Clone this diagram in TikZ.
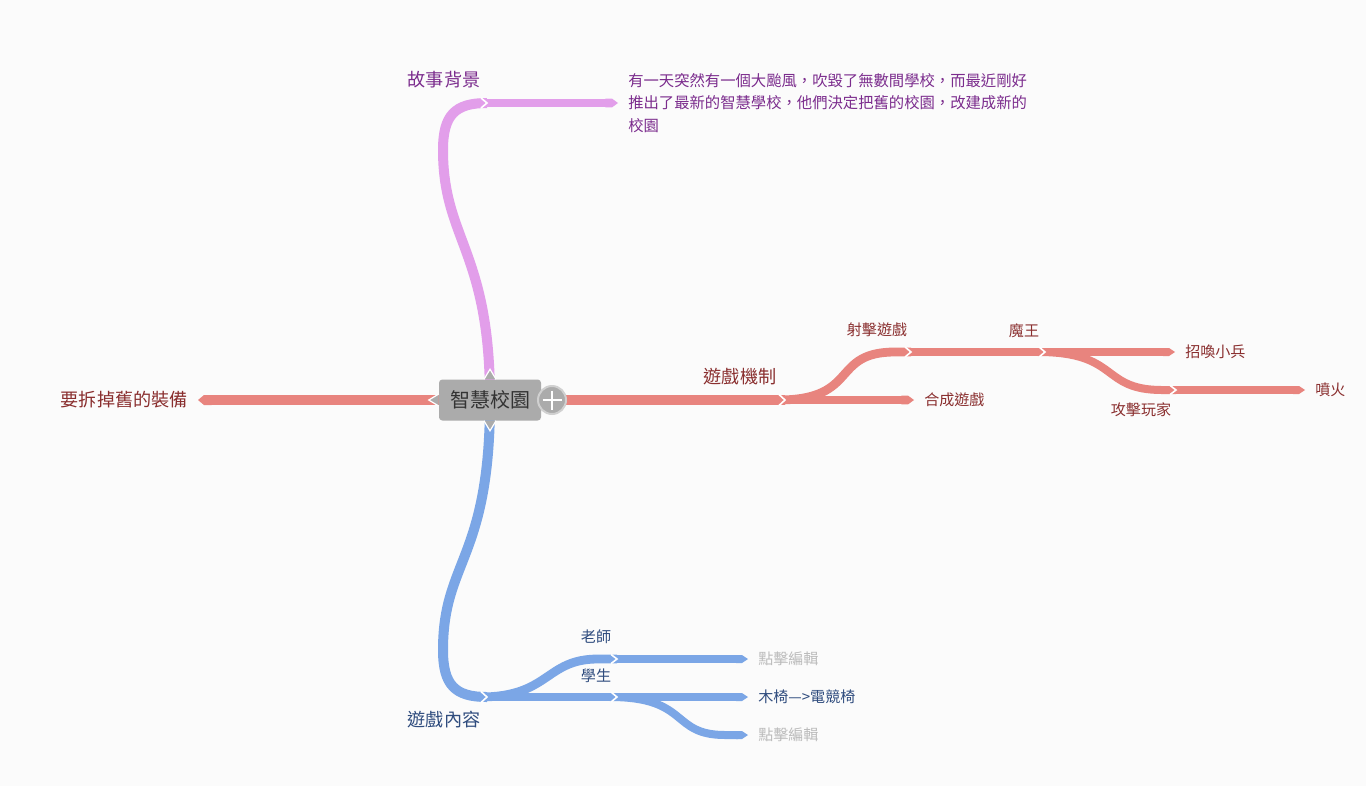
\documentclass[tikz,border=0pt]{standalone}
\usepackage{fontspec}
\setmainfont{Noto Sans CJK TC}
\usepackage{tikz}
\usetikzlibrary{arrows.meta, calc, backgrounds, positioning}

\definecolor{bg}{HTML}{FBFBFB}
\definecolor{pinkband}{HTML}{E29EEA}
\definecolor{redband}{HTML}{E8847E}
\definecolor{blueband}{HTML}{7BA6E6}
\definecolor{pinktext}{HTML}{7B2C8D}
\definecolor{redtext}{HTML}{8A2F2F}
\definecolor{bluetext}{HTML}{2F4C7E}
\definecolor{hint}{HTML}{BBBBBB}
\definecolor{hubgray}{HTML}{ABABAB}
\definecolor{ringgray}{HTML}{D0D0D0}

% white chevron where one piece of a branch hands over to the next
\newcommand\joint[2]{\draw[white, line width=1.2pt] ($(#1)+(-6,-#2)$) -- (#1) -- ($(#1)+(-6,#2)$);}

\begin{document}
\begin{tikzpicture}[x=.75pt,y=-.75pt,
    band/.style={line width=7.5pt},
    twig/.style={line width=6.6pt},
    leaf/.style={line width=6pt},
    tip/.style={-{Triangle Cap[length=4.5pt]}, shorten >=7.5pt},
    big/.style={font=\fontsize{13.6}{16}\selectfont, inner sep=0pt},
    small/.style={font=\fontsize{11.3}{14}\selectfont, inner sep=0pt}]

  \node [fill=hubgray, rounded corners=2.5pt, minimum width=76.5pt, minimum height=30.75pt,
         font=\fontsize{15}{18}\selectfont, text=black!80] at (490,400) (hub) {智慧校園};

  % labels
  \node [big, text=pinktext] at (444,80) (story) {故事背景};
  \node [inner sep=0pt, text=pinktext, align=left, anchor=west,
         font=\fontsize{11.5}{16.9}\selectfont] at (628,103) (storytext)
        {有一天突然有一個大颱風，吹毀了無數間學校，而最近剛好\\推出了最新的智慧學校，他們決定把舊的校園，改建成新的\\校園};
  \node [big, text=redtext, anchor=east] at (188,400) (drop) {要拆掉舊的裝備};
  \node [big, text=redtext] at (740,377) (mech) {遊戲機制};
  \node [small, text=redtext] at (877,330) (shoot) {射擊遊戲};
  \node [small, text=redtext] at (1024,331) (boss) {魔王};
  \node [small, text=redtext, anchor=west] at (924,400) (synth) {合成遊戲};
  \node [small, text=redtext, anchor=west] at (1185,352) (summon) {招喚小兵};
  \node [small, text=redtext] at (1141,410) (attack) {攻擊玩家};
  \node [small, text=redtext, anchor=west] at (1315,390) (fire) {噴火};
  \node [big, text=bluetext] at (444,720) (content) {遊戲內容};
  \node [small, text=bluetext] at (596,637) (teacher) {老師};
  \node [small, text=bluetext] at (596,676) (student) {學生};
  \node [small, text=hint, anchor=west] at (758,659) (edit1) {點擊編輯};
  \node [small, text=bluetext, anchor=west] at (758,697) (chair) {木椅—>電競椅};
  \node [small, text=hint, anchor=west] at (758,735) (edit2) {點擊編輯};

  \coordinate (storyjoint) at (487,103);
  \coordinate (mechjoint) at (785,400);
  \coordinate (shootjoint) at (911,352);
  \coordinate (bossjoint) at (1045,352);
  \coordinate (attackjoint) at (1176,390);
  \coordinate (contentjoint) at (487,697);
  \coordinate (teacherjoint) at (617,659);
  \coordinate (studentjoint) at (617,697);

  \begin{scope}[on background layer]
    \fill [bg] (0,0) rectangle (1366,786);
    % story
    \draw [band, pinkband] (hub.center) .. controls (490,250) and (443,240) .. (443,150)
          .. controls (443,115) and (455,103) .. (storyjoint);
    \draw [twig, pinkband, tip] ($(storyjoint)+(-7,0)$) -- (storytext);
    % left
    \draw [band, redband, tip] (hub.center) -- (drop);
    % game mechanics
    \draw [band, redband] (hub.center) -- (mechjoint);
    \draw [twig, redband, tip] ($(mechjoint)+(-7,0)$) -- (synth);
    \draw [twig, redband] ($(mechjoint)+(-7,0)$) .. controls (860,400) and (830,352) .. (895,352) -- (shootjoint);
    \draw [twig, redband] ($(shootjoint)+(-7,0)$) -- (bossjoint);
    \draw [leaf, redband, tip] ($(bossjoint)+(-7,0)$) -- (summon);
    \draw [leaf, redband] ($(bossjoint)+(-7,0)$) .. controls (1120,352) and (1100,390) .. (1162,390) -- (attackjoint);
    \draw [leaf, redband, tip] ($(attackjoint)+(-7,0)$) -- (fire);
    % game content
    \draw [band, blueband] (hub.center) .. controls (490,560) and (443,560) .. (443,650)
          .. controls (443,685) and (455,697) .. (contentjoint);
    \draw [twig, blueband] ($(contentjoint)+(-7,0)$) -- (studentjoint);
    \draw [twig, blueband] ($(contentjoint)+(-7,0)$) .. controls (550,697) and (545,659) .. (598,659) -- (teacherjoint);
    \draw [leaf, blueband, tip] ($(teacherjoint)+(-7,0)$) -- (edit1);
    \draw [leaf, blueband, tip] ($(studentjoint)+(-7,0)$) -- (chair);
    \draw [leaf, blueband, tip] ($(studentjoint)+(-7,0)$) .. controls (690,697) and (670,735) .. (725,735) -- (edit2);
  \end{scope}

  \joint{storyjoint}{5}
  \joint{mechjoint}{5.5}
  \joint{shootjoint}{5}
  \joint{bossjoint}{5}
  \joint{attackjoint}{4.6}
  \joint{contentjoint}{5.5}
  \joint{teacherjoint}{4.6}
  \joint{studentjoint}{5}

  % small tips of the centre box
  \filldraw [fill=hubgray, draw=white, line width=.9pt] ($(hub.north)+(-6,0)$) -- ($(hub.north)+(0,-10)$) -- ($(hub.north)+(6,0)$);
  \filldraw [fill=hubgray, draw=white, line width=.9pt] ($(hub.south)+(-6,0)$) -- ($(hub.south)+(0,10)$) -- ($(hub.south)+(6,0)$);
  \filldraw [fill=hubgray, draw=white, line width=.9pt] ($(hub.west)+(0,-6)$) -- ($(hub.west)+(-10,0)$) -- ($(hub.west)+(0,6)$);

  \node [circle, fill=hubgray, draw=ringgray, line width=1.5pt, minimum size=21pt, inner sep=0pt] at (552,400) (more) {};
  \draw [white, line width=2.2pt] ($(more)+(-9.5,0)$) -- ($(more)+(9.5,0)$) ($(more)+(0,-9.5)$) -- ($(more)+(0,9.5)$);
\end{tikzpicture}
\end{document}
